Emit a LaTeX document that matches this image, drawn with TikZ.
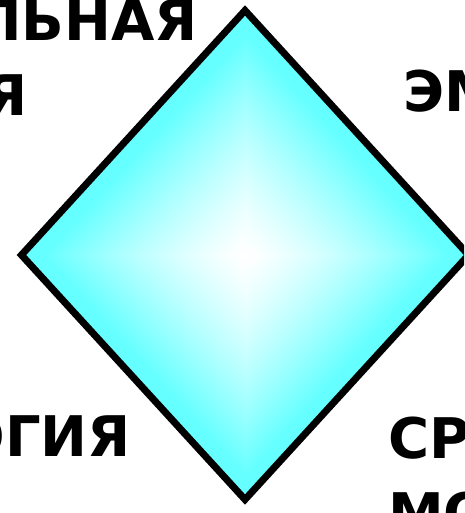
\documentclass[tikz,border=0pt]{standalone}
\usepackage{fontspec}
\setmainfont{DejaVu Sans}
\usetikzlibrary{shapes.geometric, positioning}
\definecolor{rhLine}{HTML}{000000}
\definecolor{rhEdge}{HTML}{66FFFF}
\pgfdeclarefunctionalshading{rhombglow}{\pgfpointorigin}{\pgfpoint{100bp}{100bp}}{}{
  50 sub abs exch 50 sub abs add 25 div 0.9 div
  dup 1 gt {pop 1} if 1.3 exp 0.6 mul 1 exch sub 1 1
}
\tikzset{
  rhomb/.style={
    draw=rhLine, diamond, line width=7pt, miter limit=10,
    minimum width=450pt, minimum height=492pt, inner sep=0pt,
    shading=rhombglow
  },
  cuttext/.style={
    font=\fontsize{56}{56}\selectfont\bfseries, inner sep=0pt, text=black
  }
}
\begin{document}
\begin{tikzpicture}[x=1pt, y=-1pt]
  \useasboundingbox (0,0) rectangle (464,513);
  \clip (0,0) rectangle (464,513);
  \node[rhomb] (rh) at (245,255) {};
  % cut-off labels round the diamond
  \node[cuttext, anchor=base east] (tla) at (198,41) {ЛЬНАЯ};
  \node[cuttext, anchor=base east] (tlb) at (28,116) {Я};
  \node[cuttext, anchor=base west] (tra) at (403,112) {ЭМ};
  \node[cuttext, anchor=base east] (bla) at (131,456) {ОГИЯ};
  \node[cuttext, anchor=base west] (bra) at (388,458) {СР};
  \node[cuttext, anchor=base west] (brb) at (388,533) {МО};
\end{tikzpicture}
\end{document}
